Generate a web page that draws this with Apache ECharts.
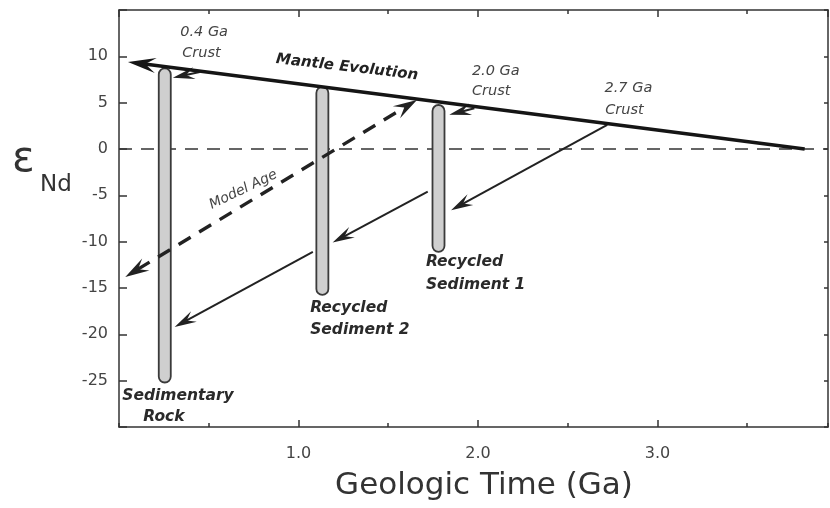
<!DOCTYPE html>
<html><head><meta charset="utf-8">
<script src="https://cdn.jsdelivr.net/npm/echarts@6/dist/echarts.min.js"></script>
<style>html,body{margin:0;padding:0;background:#fff}#c{width:830px;height:508px}</style>
</head><body><div id="c"></div>
<script>
// ---- data (Ga, epsilon Nd) ----
const xTickLabels = ['1.0', '2.0', '3.0'];
const yTickLabels = [-25, -20, -15, -10, -5, 0, 5, 10];
const zeroLine = [[0, 0, 3.95, 0]];
const mantleEvolution = [[3.82, 0.0, 0.05, 9.4]];
const crustArrows = [[0.45, 8.3, 0.30, 7.7], [1.98, 4.4, 1.84, 3.7]];
const recycleArrows = [[2.72, 2.6, 1.85, -6.6], [1.72, -4.6, 1.19, -10.1], [1.08, -11.1, 0.31, -19.2]];
const modelAge = [[0.035, -13.8, 1.66, 5.3]];
const sedimentBars = [[0.255, 8.7, -25.2], [1.133, 6.7, -15.75], [1.78, 4.75, -11.1]];
const crustLabels = [[0.341, 12.6, '0.4 Ga'], [0.352, 10.35, 'Crust'], [1.966, 8.34, '2.0 Ga'], [1.966, 6.18, 'Crust'], [2.705, 6.55, '2.7 Ga'], [2.709, 4.2, 'Crust']];
const sedimentLabels = [[0.018, -26.6, 'Sedimentary'], [0.135, -28.9, 'Rock'], [1.71, -12.2, 'Recycled'], [1.71, -14.7, 'Sediment 1'], [1.065, -17.15, 'Recycled'], [1.065, -19.5, 'Sediment 2']];
const mantleLabel = [[0.875, 9.7, 'Mantle Evolution']];
const modelAgeLabel = [[0.692, -4.4, 'Model Age']];

// ---- rendering ----
const FONT = 'DejaVu Sans';
const AX = {color: '#333', width: 1.5};
const chart = echarts.init(document.getElementById('c'), null, {renderer: 'canvas'});

function arrowSeries(data, o) {
  return {
    type: 'custom', xAxisIndex: 0, yAxisIndex: 0, data: data, silent: true, z: o.z || 3,
    renderItem: function (params, api) {
      const p1 = api.coord([api.value(0), api.value(1)]);
      const p2 = api.coord([api.value(2), api.value(3)]);
      const dx = p2[0] - p1[0], dy = p2[1] - p1[1], len = Math.hypot(dx, dy);
      const ux = dx / len, uy = dy / len;
      const L = o.headLen || 0, W = o.headWidth || 0;
      let a = p1.slice(), b = p2.slice();
      const heads = [];
      function head(tip, sx, sy) {
        const nx = -sy, ny = sx;
        return {type: 'polygon', shape: {points: [
          tip,
          [tip[0] - L * sx + W / 2 * nx, tip[1] - L * sy + W / 2 * ny],
          [tip[0] - 0.62 * L * sx, tip[1] - 0.62 * L * sy],
          [tip[0] - L * sx - W / 2 * nx, tip[1] - L * sy - W / 2 * ny]
        ]}, style: {fill: o.color}};
      }
      if (o.end) { heads.push(head(p2, ux, uy)); b = [p2[0] - 0.6 * L * ux, p2[1] - 0.6 * L * uy]; }
      if (o.start) { heads.push(head(p1, -ux, -uy)); a = [p1[0] + 0.6 * L * ux, p1[1] + 0.6 * L * uy]; }
      const line = {type: 'line', shape: {x1: a[0], y1: a[1], x2: b[0], y2: b[1]},
        style: {stroke: o.color, lineWidth: o.width, lineDash: o.dash || null, lineCap: 'butt'}};
      return {type: 'group', children: [line].concat(heads)};
    }
  };
}

function labelSeries(data, f) {
  return {
    type: 'custom', xAxisIndex: 0, yAxisIndex: 0, silent: true, z: 6,
    data: data.map(function (d) { return [d[0], d[1]]; }),
    renderItem: function (params, api) {
      const p = api.coord([api.value(0), api.value(1)]);
      const d = data[params.dataIndex];
      return {type: 'text', x: p[0], y: p[1], rotation: f.rotation || 0,
        style: {text: d[2], fontFamily: FONT, fontSize: f.size, fontStyle: 'italic',
          fontWeight: f.weight || 'normal', fill: f.color, align: f.align || 'left', verticalAlign: 'middle'}};
    }
  };
}

const barSeries = {
  type: 'custom', xAxisIndex: 0, yAxisIndex: 0, data: sedimentBars, silent: true, z: 2,
  renderItem: function (params, api) {
    const t = api.coord([api.value(0), api.value(1)]);
    const b = api.coord([api.value(0), api.value(2)]);
    const w = 12;
    return {type: 'rect', shape: {x: t[0] - w / 2, y: t[1], width: w, height: b[1] - t[1], r: w / 2},
      style: {fill: '#cfcfcf', stroke: '#3a3a3a', lineWidth: 1.8}};
  }
};

function xAx(pos, major) {
  return {
    type: 'value', min: 0, max: 3.95, interval: major ? 1 : 0.5, position: pos,
    axisLine: {show: major, onZero: false, lineStyle: AX},
    axisTick: {show: true, inside: true, length: major ? 7 : 4, lineStyle: AX},
    axisLabel: {show: major && pos === 'bottom', margin: 19, fontSize: 16, color: '#444', fontFamily: FONT,
      showMaxLabel: false, showMinLabel: false,
      formatter: function (v) { const s = v.toFixed(1); return xTickLabels.indexOf(s) >= 0 ? s : ''; }},
    splitLine: {show: false}
  };
}

const option = {
  animation: false,
  backgroundColor: '#fff',
  grid: {left: 119, right: 2, top: 10, bottom: 81},
  xAxis: [xAx('bottom', true), xAx('bottom', false), xAx('top', true), xAx('top', false)],
  yAxis: [{
    type: 'value', min: -30, max: 15, interval: 5, position: 'left',
    axisLine: {show: true, onZero: false, lineStyle: AX},
    axisTick: {show: true, inside: true, length: 8, lineStyle: AX},
    axisLabel: {margin: 11, fontSize: 16, color: '#444', fontFamily: FONT,
      formatter: function (v) { return yTickLabels.indexOf(v) >= 0 ? String(v) : ''; }},
    splitLine: {show: false}
  }, {
    type: 'value', min: -30, max: 15, interval: 5, position: 'right',
    axisLine: {show: true, onZero: false, lineStyle: AX},
    axisTick: {show: true, inside: true, length: 4, lineStyle: AX},
    axisLabel: {show: false}, splitLine: {show: false}
  }],
  graphic: [
    {type: 'text', left: 12, top: 139, style: {text: 'ε', fontFamily: FONT, fontSize: 42, fill: '#333'}},
    {type: 'text', left: 40, top: 174, style: {text: 'Nd', fontFamily: FONT, fontSize: 23, fill: '#333'}},
    {type: 'text', x: 484, y: 486, style: {text: 'Geologic Time (Ga)', fontFamily: FONT, fontSize: 31, fill: '#333', align: 'center', verticalAlign: 'middle'}}
  ],
  series: [
    barSeries,
    arrowSeries(zeroLine, {color: '#333', width: 1.6, dash: [13, 9], z: 1}),
    arrowSeries(mantleEvolution, {color: '#151515', width: 3.6, end: true, headLen: 28, headWidth: 15, z: 4}),
    arrowSeries(crustArrows, {color: '#222', width: 2, end: true, headLen: 22, headWidth: 12}),
    arrowSeries(recycleArrows, {color: '#222', width: 2, end: true, headLen: 22, headWidth: 12}),
    arrowSeries(modelAge, {color: '#222', width: 3.4, dash: [14, 10], start: true, end: true, headLen: 24, headWidth: 14}),
    labelSeries(crustLabels, {size: 14.5, color: '#444'}),
    labelSeries(sedimentLabels, {size: 15.5, weight: 'bold', color: '#2a2a2a'}),
    labelSeries(mantleLabel, {size: 15, weight: 'bold', color: '#222', rotation: -0.115}),
    labelSeries(modelAgeLabel, {size: 14, color: '#444', rotation: 0.45, align: 'center'})
  ]
};
chart.setOption(option);
</script></body></html>
